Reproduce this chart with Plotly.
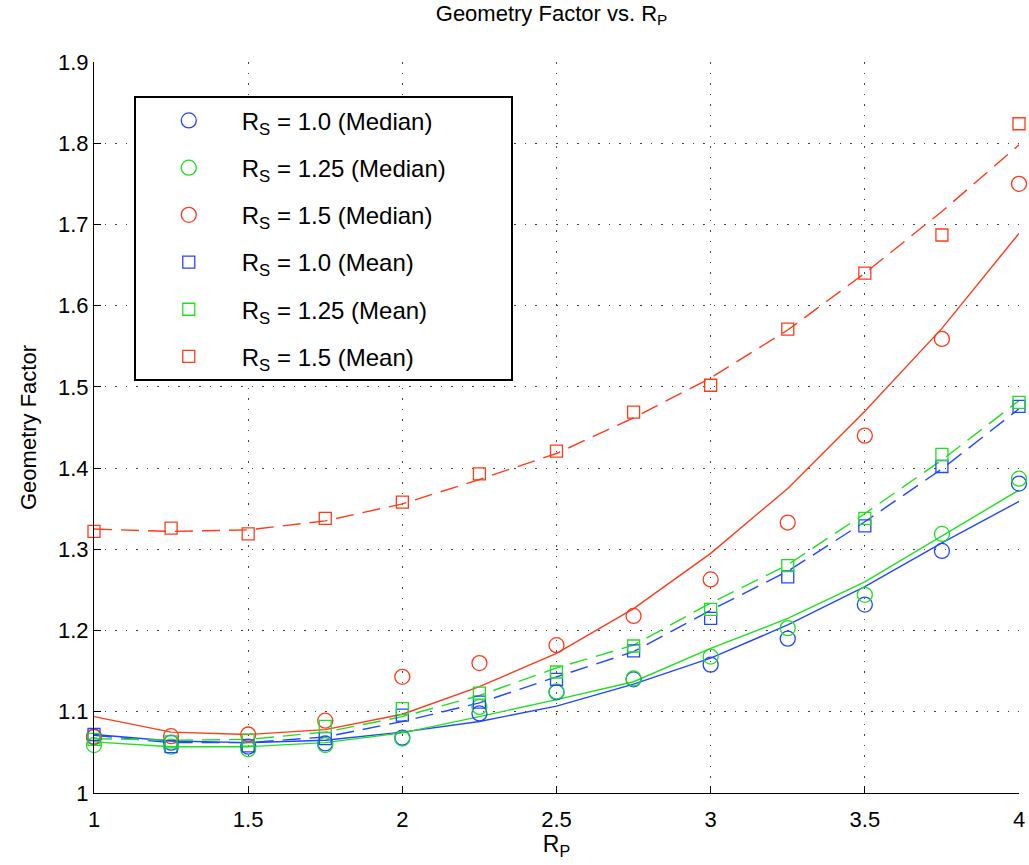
import plotly.graph_objects as go

# R_P sample positions
rp = [1.0, 1.25, 1.5, 1.75, 2.0, 2.25, 2.5, 2.75, 3.0, 3.25, 3.5, 3.75, 4.0]

# Median geometry factor for each R_S
median_rs100 = [1.069, 1.062, 1.057, 1.061, 1.068, 1.098, 1.124, 1.140, 1.158, 1.190, 1.232, 1.298, 1.381]
median_rs125 = [1.059, 1.057, 1.054, 1.059, 1.067, 1.106, 1.125, 1.141, 1.168, 1.203, 1.244, 1.319, 1.387]
median_rs150 = [1.069, 1.070, 1.072, 1.089, 1.143, 1.160, 1.182, 1.218, 1.263, 1.333, 1.440, 1.559, 1.750]

# Mean geometry factor for each R_S
mean_rs100 = [1.072, 1.057, 1.058, 1.067, 1.096, 1.112, 1.140, 1.175, 1.215, 1.266, 1.329, 1.402, 1.476]
mean_rs125 = [1.066, 1.063, 1.065, 1.082, 1.104, 1.123, 1.149, 1.181, 1.226, 1.280, 1.338, 1.417, 1.481]
mean_rs150 = [1.322, 1.326, 1.319, 1.338, 1.358, 1.393, 1.421, 1.469, 1.502, 1.571, 1.640, 1.687, 1.824]

# Fitted curves (solid: median, dashed: mean)
fit_median_rs100 = [1.072, 1.064, 1.062, 1.065, 1.075, 1.088, 1.107, 1.134, 1.166, 1.207, 1.254, 1.308, 1.359]
fit_median_rs125 = [1.063, 1.057, 1.057, 1.062, 1.074, 1.094, 1.115, 1.137, 1.178, 1.215, 1.260, 1.317, 1.373]
fit_median_rs150 = [1.094, 1.075, 1.072, 1.078, 1.097, 1.131, 1.172, 1.227, 1.295, 1.375, 1.470, 1.572, 1.689]
fit_mean_rs100 = [1.071, 1.062, 1.062, 1.069, 1.088, 1.111, 1.143, 1.174, 1.225, 1.273, 1.334, 1.399, 1.473]
fit_mean_rs125 = [1.067, 1.065, 1.066, 1.075, 1.094, 1.120, 1.154, 1.182, 1.234, 1.281, 1.344, 1.410, 1.483]
fit_mean_rs150 = [1.325, 1.322, 1.324, 1.335, 1.356, 1.386, 1.418, 1.462, 1.511, 1.570, 1.640, 1.716, 1.798]

x_ticks = [1, 1.5, 2, 2.5, 3, 3.5, 4]
x_tick_text = ["1", "1.5", "2", "2.5", "3", "3.5", "4"]
y_ticks = [1, 1.1, 1.2, 1.3, 1.4, 1.5, 1.6, 1.7, 1.8, 1.9]
y_tick_text = ["1", "1.1", "1.2", "1.3", "1.4", "1.5", "1.6", "1.7", "1.8", "1.9"]

BLUE = "#2146ff"
GREEN = "#1fe01f"
RED = "#ff3a1a"
FONT = "Liberation Sans, Arial, sans-serif"
PAD = "&nbsp;" * 9  # widens the legend box

fig = go.Figure()

# fitted curves first, so markers sit on top
for ys, color, dash in [
    (fit_median_rs100, BLUE, "solid"),
    (fit_median_rs125, GREEN, "solid"),
    (fit_median_rs150, RED, "solid"),
    (fit_mean_rs100, BLUE, "18px,9px"),
    (fit_mean_rs125, GREEN, "18px,9px"),
    (fit_mean_rs150, RED, "18px,9px"),
]:
    fig.add_trace(go.Scatter(
        x=rp, y=ys, mode="lines", showlegend=False, hoverinfo="skip",
        line=dict(color=color, width=1.4, dash=dash),
    ))

series = [
    ("R<sub>S</sub> = 1.0 (Median)", median_rs100, BLUE, "circle-open", 15),
    ("R<sub>S</sub> = 1.25 (Median)", median_rs125, GREEN, "circle-open", 15),
    ("R<sub>S</sub> = 1.5 (Median)", median_rs150, RED, "circle-open", 15),
    ("R<sub>S</sub> = 1.0 (Mean)", mean_rs100, BLUE, "square-open", 12),
    ("R<sub>S</sub> = 1.25 (Mean)", mean_rs125, GREEN, "square-open", 12),
    ("R<sub>S</sub> = 1.5 (Mean)", mean_rs150, RED, "square-open", 12),
]
for i, (name, ys, color, symbol, size) in enumerate(series):
    fig.add_trace(go.Scatter(
        x=rp, y=ys, mode="markers", name=name + PAD, legendgroup=f"g{i}",
        cliponaxis=False,
        marker=dict(symbol=symbol, size=size, color=color, line=dict(color=color, width=1.3)),
    ))

axis_common = dict(
    showline=True, linecolor="black", linewidth=1.2, mirror=False,
    ticks="inside", ticklen=7, tickcolor="black", tickwidth=1,
    showgrid=True, gridcolor="#444444", gridwidth=1, griddash="1.5px,9px",
    zeroline=False, automargin=False,
    tickfont=dict(family=FONT, size=22, color="black"),
)

fig.update_xaxes(
    range=[1, 4], tickvals=x_ticks, ticktext=x_tick_text, ticklabelstandoff=6,
    title=dict(text="R<sub>P</sub>", font=dict(family=FONT, size=23, color="black"), standoff=2),
    **axis_common,
)
fig.update_yaxes(
    range=[1, 1.9], tickvals=y_ticks, ticktext=y_tick_text,
    title=dict(text="Geometry Factor", font=dict(family=FONT, size=22, color="black"), standoff=15),
    **axis_common,
)

fig.update_layout(
    width=1029, height=865,
    margin=dict(l=94, r=10, t=62, b=72),
    paper_bgcolor="white", plot_bgcolor="white",
    font=dict(family=FONT, color="black"),
    title=dict(
        text="Geometry Factor vs. R<sub>P</sub>",
        font=dict(family=FONT, size=22, color="black"),
        x=0.536, xanchor="center", y=0.994, yanchor="top",
    ),
    legend=dict(
        x=0.043, y=0.953, xanchor="left", yanchor="top",
        bgcolor="white", bordercolor="black", borderwidth=2,
        font=dict(family=FONT, size=24, color="black"),
        tracegroupgap=13, itemwidth=96,
    ),
    showlegend=True,
)

fig.write_html("out.html")
